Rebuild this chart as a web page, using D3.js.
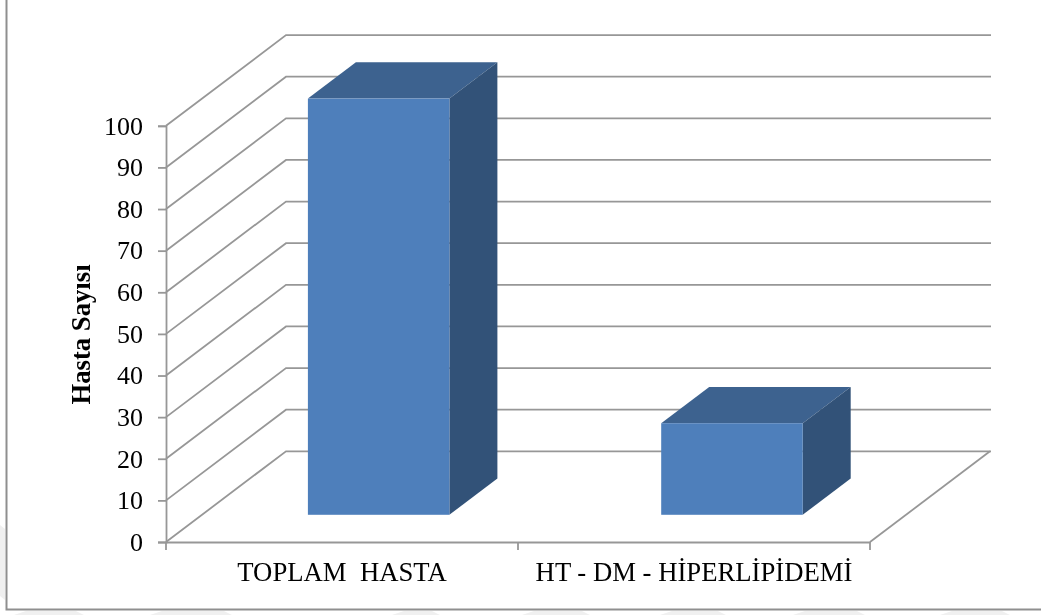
<!DOCTYPE html>
<html>
<head>
<meta charset="utf-8">
<script src="https://cdn.jsdelivr.net/npm/d3@7"></script>
<style>
  html, body { margin: 0; padding: 0; background: #fff; }
  svg { display: block; filter: blur(0.4px); }
  text { font-family: "Liberation Serif", serif; fill: #000; }
</style>
</head>
<body>
<div id="chart"></div>
<script>
const categories = ['TOPLAM  HASTA', 'HT - DM - HİPERLİPİDEMİ'];
const values = [100, 22];
const yTicks = [0, 10, 20, 30, 40, 50, 60, 70, 80, 90, 100];
const yTitle = 'Hasta Sayısı';

const width = 1041;
const height = 615;
const plot = { left: 166, right: 870, bottom: 542, top: 125.8 };
const depthX = 120;
const depthY = -90.7;
const gridColor = '#979797';

const svg = d3.select('#chart').append('svg')
    .attr('width', width)
    .attr('height', height);

const xScale = d3.scaleBand().domain(categories).range([plot.left, plot.right]);
// bars sit a touch wider apart than the axis ticks in the picture
const barScale = d3.scaleBand().domain(categories).range([plot.left, plot.right + 2.6]);
const yScale = d3.scaleLinear().domain([0, 100]).range([plot.bottom, plot.top]);
// depth 0 = front of the box, 1 = back wall
const dx = d3.scaleLinear().domain([0, 1]).range([0, depthX]);
const dy = d3.scaleLinear().domain([0, 1]).range([0, depthY]);

// faint watermark showing round the frame
const marks = svg.append('g').attr('fill', '#f0f0f0');
[[14, 50], [150, 62], [392, 28], [522, 48], [660, 46], [793, 52], [940, 50]].forEach(([x, w]) => {
    marks.append('path').attr('d', `M${x + 12},611 L${x + w + 12},611 L${x + w + 20},615 L${x},615 Z`);
});
marks.append('path').attr('d', 'M0,525 L5,529 L5,600 L0,596 Z');

// frame, no top or right edge in the picture
svg.append('path')
    .attr('d', `M6.5,0 V609.5 H${width}`)
    .attr('fill', 'none')
    .attr('stroke', '#8f8f8f')
    .attr('stroke-width', 2);

// gridlines: diagonal on the side wall, flat on the back wall
const grid = svg.append('g').attr('fill', 'none').attr('stroke', gridColor).attr('stroke-width', 1.8);
const line = d3.line();
grid.selectAll('path.wall')
    .data(yTicks)
    .join('path')
    .attr('class', 'wall')
    .attr('d', t => line([
        [plot.left, yScale(t)],
        [plot.left + dx(1), yScale(t) + dy(1)],
        [plot.right + dx(1) + 1, yScale(t) + dy(1)]
    ]));
grid.append('path')
    .attr('d', line([
        [plot.right, plot.bottom],
        [plot.right + dx(1), plot.bottom + dy(1)]
    ]));

// axes
const yAxis = svg.append('g')
    .attr('transform', `translate(${plot.left},0)`)
    .call(d3.axisLeft(yScale).tickValues(yTicks).tickSize(8).tickPadding(15));
const xAxis = svg.append('g')
    .attr('transform', `translate(0,${plot.bottom})`)
    .call(d3.axisBottom(xScale).tickSize(0).tickPadding(20));

xAxis.selectAll('.cat-tick')
    .data([plot.left, plot.left + xScale.bandwidth(), plot.right])
    .join('line')
    .attr('class', 'cat-tick')
    .attr('x1', d => d)
    .attr('x2', d => d)
    .attr('y1', 0)
    .attr('y2', 8)
    .attr('stroke', gridColor)
    .attr('stroke-width', 1.8);

[yAxis, xAxis].forEach(a => {
    a.selectAll('.domain, .tick line').attr('stroke', gridColor).attr('stroke-width', 1.8);
    a.selectAll('text').style('font-family', '"Liberation Serif", serif').attr('fill', '#000');
});
yAxis.selectAll('text').style('font-size', '26px');
xAxis.selectAll('text').style('font-size', '26.7px').style('white-space', 'pre');

// bars as three faces
const barWidth = 141.5;
const barFront = 0.3;
const barBack = 0.7;
const bars = svg.append('g').selectAll('g')
    .data(categories.map((c, i) => ({ c, v: values[i] })))
    .join('g');

const faceX = d => barScale(d.c) + (barScale.bandwidth() - barWidth) / 2 + dx(barFront);
const base = plot.bottom + dy(barFront);
const topY = d => yScale(d.v) + dy(barFront);
const backX = dx(barBack) - dx(barFront);
const backY = dy(barBack) - dy(barFront);

bars.append('path') // top
    .attr('fill', '#3d628f')
    .attr('d', d => line([
        [faceX(d), topY(d)],
        [faceX(d) + backX, topY(d) + backY],
        [faceX(d) + barWidth + backX, topY(d) + backY],
        [faceX(d) + barWidth, topY(d)]
    ]) + 'Z');
bars.append('path') // side
    .attr('fill', '#325278')
    .attr('d', d => line([
        [faceX(d) + barWidth, topY(d)],
        [faceX(d) + barWidth + backX, topY(d) + backY],
        [faceX(d) + barWidth + backX, base + backY],
        [faceX(d) + barWidth, base]
    ]) + 'Z');
bars.append('rect') // front
    .attr('fill', '#4e7fbb')
    .attr('x', faceX)
    .attr('y', topY)
    .attr('width', barWidth)
    .attr('height', d => base - topY(d));

svg.append('text')
    .attr('transform', `translate(90,334.5) rotate(-90)`)
    .attr('text-anchor', 'middle')
    .style('font-size', '26.7px')
    .style('font-weight', 'bold')
    .text(yTitle);
</script>
</body>
</html>
